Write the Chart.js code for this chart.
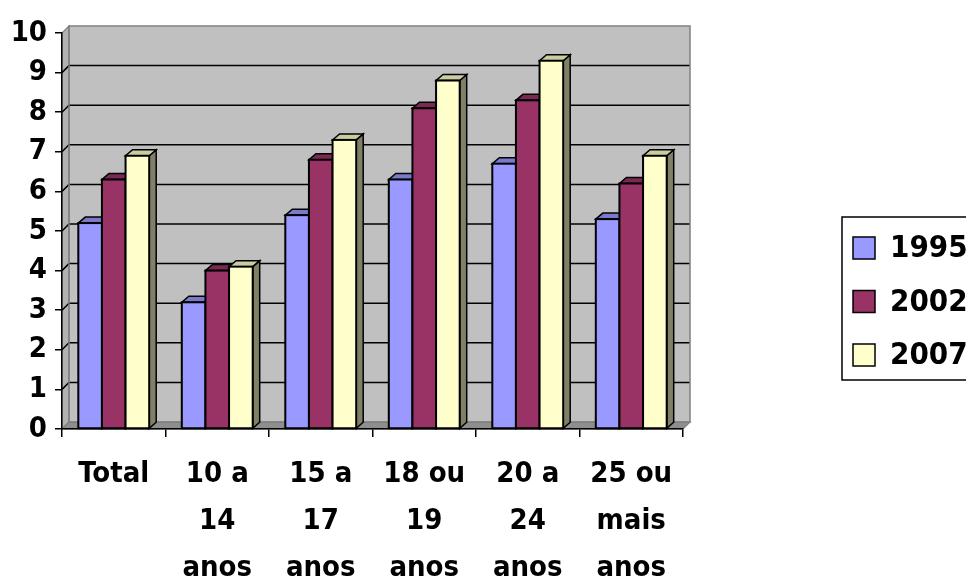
<!DOCTYPE html>
<html>
<head>
<meta charset="utf-8">
<script src="https://cdn.jsdelivr.net/npm/chart.js@4/dist/chart.umd.min.js"></script>
<style>
  html, body { margin: 0; padding: 0; background: #ffffff; }
  #wrap { width: 966px; height: 583px; position: relative; }
</style>
</head>
<body>
<div id="wrap"><canvas id="chart" width="966" height="583"></canvas></div>
<script>
// Age groups (multi-line axis labels)
const categories = [
  ["Total"],
  ["10 a", "14", "anos"],
  ["15 a", "17", "anos"],
  ["18 ou", "19", "anos"],
  ["20 a", "24", "anos"],
  ["25 ou", "mais", "anos"]
];
const seriesNames = ["1995", "2002", "2007"];
const values1995 = [5.2, 3.2, 5.4, 6.3, 6.7, 5.3];
const values2002 = [6.3, 4.0, 6.8, 8.1, 8.3, 6.2];
const values2007 = [6.9, 4.1, 7.3, 8.8, 9.3, 6.9];
const yMin = 0, yMax = 10, yStep = 1;

// Face colours: front, top, side
const frontColors = ["#9999FF", "#993366", "#FFFFCC"];
const topColors   = ["#7A7ACC", "#7A2952", "#CCCCA3"];
const sideColors  = ["#4D4D80", "#4D1A33", "#808066"];

const FONT = '"DejaVu Sans Condensed", "DejaVu Sans", sans-serif';
const WALL_DX = 7, WALL_DY = 7;   // depth of the box (back wall offset)
const BAR_DX = 7, BAR_DY = 6;     // depth of each column

function poly(ctx, pts, fill, stroke, lw) {
  ctx.beginPath();
  ctx.moveTo(pts[0][0], pts[0][1]);
  for (let i = 1; i < pts.length; i++) ctx.lineTo(pts[i][0], pts[i][1]);
  ctx.closePath();
  if (fill) { ctx.fillStyle = fill; ctx.fill(); }
  if (stroke) { ctx.strokeStyle = stroke; ctx.lineWidth = lw || 1; ctx.stroke(); }
}

// Walls, floor, gridlines and the 3-D columns
const boxPlugin = {
  id: 'box3d',
  beforeDraw(chart) {
    const { ctx, chartArea: a, scales } = chart;
    const y = scales.y;
    const L = a.left, R = a.right, T = a.top, B = a.bottom;
    ctx.save();
    // back wall
    ctx.fillStyle = '#C0C0C0';
    ctx.fillRect(L + WALL_DX, T - WALL_DY, R - L, B - T);
    // left wall
    poly(ctx, [[L, T], [L + WALL_DX, T - WALL_DY], [L + WALL_DX, B - WALL_DY], [L, B]], '#B2B2B2', '#808080', 1.2);
    // floor
    poly(ctx, [[L, B], [R, B], [R + WALL_DX, B - WALL_DY], [L + WALL_DX, B - WALL_DY]], '#8E8E8E', '#808080', 1.2);
    // gridlines across left wall and back wall
    ctx.strokeStyle = '#000000';
    ctx.lineWidth = 1.5;
    for (let v = yMin + yStep; v < yMax; v += yStep) {
      const py = y.getPixelForValue(v);
      ctx.beginPath();
      ctx.moveTo(L, py);
      ctx.lineTo(L + WALL_DX, py - WALL_DY);
      ctx.lineTo(R + WALL_DX, py - WALL_DY);
      ctx.stroke();
    }
    // back wall outline
    ctx.strokeStyle = '#808080';
    ctx.lineWidth = 1.5;
    ctx.strokeRect(L + WALL_DX, T - WALL_DY, R - L, B - T);
    ctx.restore();
  },
  afterDatasetsDraw(chart) {
    // columns painted left to right inside each group so that
    // every column hides the right-hand face of its left neighbour
    const { ctx } = chart;
    ctx.save();
    ctx.lineJoin = 'miter';
    chart.data.datasets.forEach((ds, i) => {
      const meta = chart.getDatasetMeta(i);
      meta.data.forEach(el => {
        const l = el.x - el.width / 2, r = el.x + el.width / 2, t = el.y, b = el.base;
        poly(ctx, [[r, t], [r + BAR_DX, t - BAR_DY], [r + BAR_DX, b - BAR_DY], [r, b]], sideColors[i], '#000', 1.5);
        poly(ctx, [[l, t], [r, t], [r + BAR_DX, t - BAR_DY], [l + BAR_DX, t - BAR_DY]], topColors[i], '#000', 1.5);
        ctx.fillStyle = ds.backgroundColor;
        ctx.fillRect(l, t, el.width, b - t);
        ctx.strokeStyle = '#000';
        ctx.lineWidth = 2;
        ctx.strokeRect(l, t, el.width, b - t);
      });
    });
    ctx.restore();
  },
  afterDraw(chart) {
    // legend box on the right
    const { ctx } = chart;
    const bx = 842, by = 217, bw = 160, bh = 163;
    ctx.save();
    ctx.fillStyle = '#fff';
    ctx.fillRect(bx, by, bw, bh);
    ctx.strokeStyle = '#000';
    ctx.lineWidth = 1.5;
    ctx.strokeRect(bx, by, bw, bh);
    chart.data.datasets.forEach((ds, i) => {
      const cy = 248 + i * 53.5;
      ctx.fillStyle = ds.backgroundColor;
      ctx.fillRect(853, cy - 11, 22, 22);
      ctx.strokeStyle = '#000';
      ctx.lineWidth = 1.5;
      ctx.strokeRect(853, cy - 11, 22, 22);
      ctx.fillStyle = '#000';
      ctx.font = 'bold 31px ' + FONT;
      ctx.textBaseline = 'middle';
      ctx.textAlign = 'left';
      ctx.fillText(ds.label, 890, cy + 1);
    });
    ctx.restore();
  }
};

const seriesValues = [values1995, values2002, values2007];

new Chart(document.getElementById('chart'), {
  type: 'bar',
  data: {
    labels: categories,
    datasets: seriesNames.map((name, i) => ({
      label: name,
      data: seriesValues[i],
      backgroundColor: frontColors[i],
      borderWidth: 0,
      barPercentage: 1.0,
      categoryPercentage: 0.685
    }))
  },
  options: {
    responsive: false,
    animation: false,
    events: [],
    layout: { padding: { top: 33, right: 283, left: 0, bottom: 0 } },
    plugins: { legend: { display: false }, tooltip: { enabled: false } },
    scales: {
      x: {
        offset: true,
        grid: { display: true, drawOnChartArea: false, offset: true, tickLength: 8, color: '#000', lineWidth: 1.5 },
        border: { display: true, color: '#000', width: 1.5 },
        ticks: {
          autoSkip: false, maxRotation: 0, minRotation: 0, padding: 14, color: '#000',
          font: { family: FONT, weight: 'bold', size: 29, lineHeight: 1.62 }
        },
        afterFit(scale) { scale.height = 154; }
      },
      y: {
        min: yMin, max: yMax,
        grid: { display: true, drawOnChartArea: false, tickLength: 7, color: '#000', lineWidth: 1.5 },
        border: { display: true, color: '#000', width: 1.5 },
        ticks: {
          stepSize: yStep, padding: 8, color: '#000',
          font: { family: FONT, weight: 'bold', size: 29 }
        },
        afterFit(scale) { scale.width = 62; }
      }
    }
  },
  plugins: [boxPlugin]
});
</script>
</body>
</html>
